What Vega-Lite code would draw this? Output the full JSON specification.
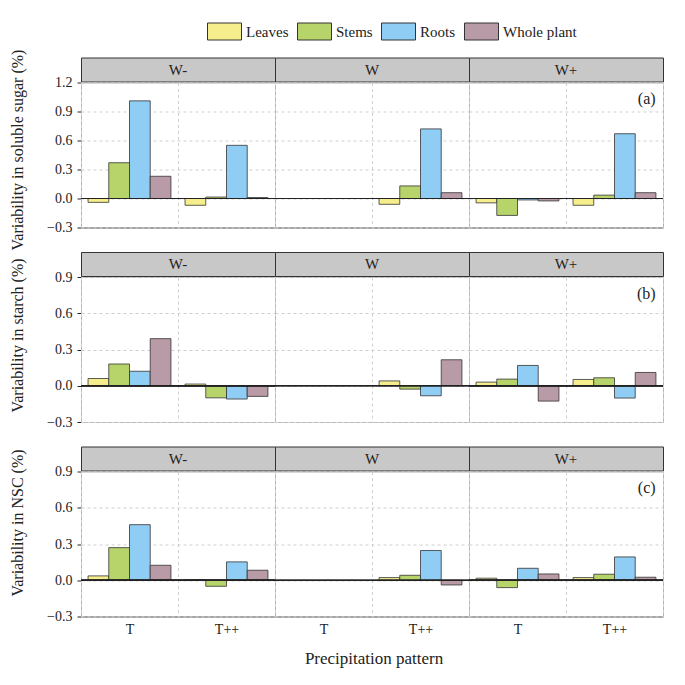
{
  "$schema": "https://vega.github.io/schema/vega-lite/v6.json",
  "padding": {"left": 8, "top": 13.5, "right": 5, "bottom": 5},
  "background": "white",
  "title": {"text": "Precipitation pattern", "orient": "bottom", "anchor": "middle", "fontSize": 17, "font": "Liberation Serif", "fontWeight": "normal", "color": "#222", "offset": 14, "dx": 38},
  "config": {
    "font": "Liberation Serif",
    "view": {"stroke": "#b5b5b5"},
    "axis": {"labelFont": "Liberation Serif", "titleFont": "Liberation Serif", "labelFontSize": 14, "labelColor": "#222", "titleFontWeight": "normal", "titleFontSize": 15, "titleColor": "#222", "domainColor": "#222", "tickColor": "#222"},
    "legend": {"labelFont": "Liberation Serif"}
  },
  "datasets": {
    "t": [
      {"n": "a", "lab": "Variability in soluble sugar (%)"},
      {"n": "b", "lab": "Variability in starch (%)"},
      {"n": "c", "lab": "Variability in NSC (%)"}
    ],
    "d": [
      {"n": "a", "W": "W-", "P": "T", "o": "Leaves", "v": -0.04},
      {"n": "a", "W": "W-", "P": "T", "o": "Stems", "v": 0.37},
      {"n": "a", "W": "W-", "P": "T", "o": "Roots", "v": 1.01},
      {"n": "a", "W": "W-", "P": "T", "o": "Whole plant", "v": 0.23},
      {"n": "a", "W": "W-", "P": "T++", "o": "Leaves", "v": -0.07},
      {"n": "a", "W": "W-", "P": "T++", "o": "Stems", "v": 0.015},
      {"n": "a", "W": "W-", "P": "T++", "o": "Roots", "v": 0.55},
      {"n": "a", "W": "W-", "P": "T++", "o": "Whole plant", "v": 0.01},
      {"n": "a", "W": "W", "P": "T++", "o": "Leaves", "v": -0.06},
      {"n": "a", "W": "W", "P": "T++", "o": "Stems", "v": 0.13},
      {"n": "a", "W": "W", "P": "T++", "o": "Roots", "v": 0.72},
      {"n": "a", "W": "W", "P": "T++", "o": "Whole plant", "v": 0.06},
      {"n": "a", "W": "W+", "P": "T", "o": "Leaves", "v": -0.045},
      {"n": "a", "W": "W+", "P": "T", "o": "Stems", "v": -0.175},
      {"n": "a", "W": "W+", "P": "T", "o": "Roots", "v": -0.015},
      {"n": "a", "W": "W+", "P": "T", "o": "Whole plant", "v": -0.025},
      {"n": "a", "W": "W+", "P": "T++", "o": "Leaves", "v": -0.07},
      {"n": "a", "W": "W+", "P": "T++", "o": "Stems", "v": 0.035},
      {"n": "a", "W": "W+", "P": "T++", "o": "Roots", "v": 0.67},
      {"n": "a", "W": "W+", "P": "T++", "o": "Whole plant", "v": 0.06},
      {"n": "b", "W": "W-", "P": "T", "o": "Leaves", "v": 0.06},
      {"n": "b", "W": "W-", "P": "T", "o": "Stems", "v": 0.18},
      {"n": "b", "W": "W-", "P": "T", "o": "Roots", "v": 0.12},
      {"n": "b", "W": "W-", "P": "T", "o": "Whole plant", "v": 0.39},
      {"n": "b", "W": "W-", "P": "T++", "o": "Leaves", "v": 0.014},
      {"n": "b", "W": "W-", "P": "T++", "o": "Stems", "v": -0.1},
      {"n": "b", "W": "W-", "P": "T++", "o": "Roots", "v": -0.11},
      {"n": "b", "W": "W-", "P": "T++", "o": "Whole plant", "v": -0.088},
      {"n": "b", "W": "W", "P": "T++", "o": "Leaves", "v": 0.04},
      {"n": "b", "W": "W", "P": "T++", "o": "Stems", "v": -0.028},
      {"n": "b", "W": "W", "P": "T++", "o": "Roots", "v": -0.083},
      {"n": "b", "W": "W", "P": "T++", "o": "Whole plant", "v": 0.215},
      {"n": "b", "W": "W+", "P": "T", "o": "Leaves", "v": 0.03},
      {"n": "b", "W": "W+", "P": "T", "o": "Stems", "v": 0.055},
      {"n": "b", "W": "W+", "P": "T", "o": "Roots", "v": 0.168},
      {"n": "b", "W": "W+", "P": "T", "o": "Whole plant", "v": -0.127},
      {"n": "b", "W": "W+", "P": "T++", "o": "Leaves", "v": 0.052},
      {"n": "b", "W": "W+", "P": "T++", "o": "Stems", "v": 0.066},
      {"n": "b", "W": "W+", "P": "T++", "o": "Roots", "v": -0.102},
      {"n": "b", "W": "W+", "P": "T++", "o": "Whole plant", "v": 0.11},
      {"n": "c", "W": "W-", "P": "T", "o": "Leaves", "v": 0.036},
      {"n": "c", "W": "W-", "P": "T", "o": "Stems", "v": 0.27},
      {"n": "c", "W": "W-", "P": "T", "o": "Roots", "v": 0.46},
      {"n": "c", "W": "W-", "P": "T", "o": "Whole plant", "v": 0.124},
      {"n": "c", "W": "W-", "P": "T++", "o": "Leaves", "v": 0.002},
      {"n": "c", "W": "W-", "P": "T++", "o": "Stems", "v": -0.05},
      {"n": "c", "W": "W-", "P": "T++", "o": "Roots", "v": 0.152},
      {"n": "c", "W": "W-", "P": "T++", "o": "Whole plant", "v": 0.083},
      {"n": "c", "W": "W", "P": "T++", "o": "Leaves", "v": 0.022},
      {"n": "c", "W": "W", "P": "T++", "o": "Stems", "v": 0.041},
      {"n": "c", "W": "W", "P": "T++", "o": "Roots", "v": 0.246},
      {"n": "c", "W": "W", "P": "T++", "o": "Whole plant", "v": -0.039},
      {"n": "c", "W": "W+", "P": "T", "o": "Leaves", "v": 0.017},
      {"n": "c", "W": "W+", "P": "T", "o": "Stems", "v": -0.061},
      {"n": "c", "W": "W+", "P": "T", "o": "Roots", "v": 0.099},
      {"n": "c", "W": "W+", "P": "T", "o": "Whole plant", "v": 0.052},
      {"n": "c", "W": "W+", "P": "T++", "o": "Leaves", "v": 0.022},
      {"n": "c", "W": "W+", "P": "T++", "o": "Stems", "v": 0.05},
      {"n": "c", "W": "W+", "P": "T++", "o": "Roots", "v": 0.193},
      {"n": "c", "W": "W+", "P": "T++", "o": "Whole plant", "v": 0.025}
    ]
  },
  "spacing": 18,
  "hconcat": [
    {
      "spacing": 24.5,
      "bounds": "flush",
      "vconcat": [
        {
          "width": 20, "height": 169, "view": {"stroke": null},
          "data": {"name": "t"},
          "transform": [{"filter": "datum.n == 'a'"}],
          "mark": {"type": "text", "angle": 270, "fontSize": 16, "font": "Liberation Serif", "color": "#222", "dx": -8},
          "encoding": {"text": {"field": "lab", "type": "nominal"}}
        },
        {
          "width": 20, "height": 169, "view": {"stroke": null},
          "data": {"name": "t"},
          "transform": [{"filter": "datum.n == 'b'"}],
          "mark": {"type": "text", "angle": 270, "fontSize": 16, "font": "Liberation Serif", "color": "#222", "dx": 0},
          "encoding": {"text": {"field": "lab", "type": "nominal"}}
        },
        {
          "width": 20, "height": 169, "view": {"stroke": null},
          "data": {"name": "t"},
          "transform": [{"filter": "datum.n == 'c'"}],
          "mark": {"type": "text", "angle": 270, "fontSize": 16, "font": "Liberation Serif", "color": "#222", "dx": 6},
          "encoding": {"text": {"field": "lab", "type": "nominal"}}
        }
      ]
    },
    {
      "spacing": 16.5,
      "vconcat": [
        {
          "spacing": -8,
          "vconcat": [
            {
              "data": {"name": "d"},
              "transform": [{"filter": "datum.n == 'a' && datum.o == 'Leaves' && datum.P == 'T++'"}],
              "facet": {"column": {"field": "W", "type": "nominal", "sort": ["W-", "W", "W+"], "header": null}},
              "spacing": {"column": 0},
              "bounds": "flush",
              "spec": {
                "width": 194, "height": 24,
                "view": {"fill": "#c8c8c8", "stroke": "#333"},
                "mark": {"type": "text", "fontSize": 15, "font": "Liberation Serif", "color": "#222"},
                "encoding": {"text": {"field": "W", "type": "nominal"}}
              }
            },
            {
              "data": {"name": "d"},
              "transform": [{"filter": "datum.n == 'a'"}],
              "facet": {"column": {"field": "W", "type": "nominal", "sort": ["W-", "W", "W+"], "header": null}},
              "spacing": {"column": 0},
              "bounds": "flush",
              "spec": {
                "width": 194, "height": 145,
                "layer": [
                  {
                    "mark": {"type": "bar", "stroke": "#333", "strokeWidth": 0.8},
                    "encoding": {
                      "x": {"field": "P", "type": "nominal", "scale": {"domain": ["T", "T++"], "paddingInner": 0, "paddingOuter": 0},
                            "axis": {"labels": false, "ticks": false, "title": null, "domain": true, "grid": true, "gridDash": [3, 3], "gridColor": "#cfcfcf", "tickBand": "extent"}},
                      "xOffset": {"field": "o", "type": "nominal", "scale": {"domain": ["Leaves", "Stems", "Roots", "Whole plant"], "paddingInner": 0, "paddingOuter": 0.34}},
                      "y": {"field": "v", "type": "quantitative", "scale": {"domain": [-0.3, 1.2], "nice": false, "zero": false},
                            "axis": {"values": [-0.3, 0, 0.3, 0.6, 0.9, 1.2], "format": ".1f", "tickSize": 4, "labelPadding": 5, "grid": true, "gridDash": [3, 3], "gridColor": "#cfcfcf", "title": null}},
                      "color": {"field": "o", "type": "nominal",
                                "scale": {"domain": ["Leaves", "Stems", "Roots", "Whole plant"], "range": ["#f6ee8c", "#b7d46a", "#90cdf5", "#b99aa7"]},
                                "legend": {"title": null, "orient": "none", "direction": "horizontal", "legendX": 199, "legendY": -43.5, "symbolType": "M-1,-0.5H1V0.5H-1Z", "symbolSize": 1156, "symbolStrokeColor": "#333", "symbolStrokeWidth": 1, "symbolOpacity": 1, "labelFontSize": 15, "labelColor": "#222", "columnPadding": 6, "labelOffset": 4}}
                    }
                  },
                  {
                    "mark": {"type": "rule", "color": "#222", "strokeWidth": 1.2},
                    "encoding": {"y": {"datum": 0, "type": "quantitative", "axis": {"orient": "right", "labels": false, "ticks": false, "grid": false, "title": null, "domain": true}}}
                  },
                  {
                    "transform": [{"filter": "datum.W == 'W+' && datum.o == 'Leaves' && datum.P == 'T++'"}],
                    "mark": {"type": "text", "text": "(a)", "align": "right", "baseline": "middle", "fontSize": 16, "dx": 10, "color": "#222"},
                    "encoding": {"x": {"datum": "T++", "type": "nominal"}, "xOffset": {"datum": "Whole plant", "type": "nominal"}, "y": {"datum": 1.03, "type": "quantitative", "axis": null}}
                  }
                ],
                "resolve": {"axis": {"y": "independent"}}
              }
            }
          ]
        },
        {
          "spacing": -8,
          "vconcat": [
            {
              "data": {"name": "d"},
              "transform": [{"filter": "datum.n == 'b' && datum.o == 'Leaves' && datum.P == 'T++'"}],
              "facet": {"column": {"field": "W", "type": "nominal", "sort": ["W-", "W", "W+"], "header": null}},
              "spacing": {"column": 0},
              "bounds": "flush",
              "spec": {
                "width": 194, "height": 24,
                "view": {"fill": "#c8c8c8", "stroke": "#333"},
                "mark": {"type": "text", "fontSize": 15, "font": "Liberation Serif", "color": "#222"},
                "encoding": {"text": {"field": "W", "type": "nominal"}}
              }
            },
            {
              "data": {"name": "d"},
              "transform": [{"filter": "datum.n == 'b'"}],
              "facet": {"column": {"field": "W", "type": "nominal", "sort": ["W-", "W", "W+"], "header": null}},
              "spacing": {"column": 0},
              "bounds": "flush",
              "spec": {
                "width": 194, "height": 145,
                "layer": [
                  {
                    "mark": {"type": "bar", "stroke": "#333", "strokeWidth": 0.8},
                    "encoding": {
                      "x": {"field": "P", "type": "nominal", "scale": {"domain": ["T", "T++"], "paddingInner": 0, "paddingOuter": 0},
                            "axis": {"labels": false, "ticks": false, "title": null, "domain": true, "grid": true, "gridDash": [3, 3], "gridColor": "#cfcfcf", "tickBand": "extent"}},
                      "xOffset": {"field": "o", "type": "nominal", "scale": {"domain": ["Leaves", "Stems", "Roots", "Whole plant"], "paddingInner": 0, "paddingOuter": 0.34}},
                      "y": {"field": "v", "type": "quantitative", "scale": {"domain": [-0.3, 0.9], "nice": false, "zero": false},
                            "axis": {"values": [-0.3, 0, 0.3, 0.6, 0.9], "format": ".1f", "tickSize": 4, "labelPadding": 5, "grid": true, "gridDash": [3, 3], "gridColor": "#cfcfcf", "title": null}},
                      "color": {"field": "o", "type": "nominal",
                                "scale": {"domain": ["Leaves", "Stems", "Roots", "Whole plant"], "range": ["#f6ee8c", "#b7d46a", "#90cdf5", "#b99aa7"]}}
                    }
                  },
                  {
                    "mark": {"type": "rule", "color": "#222", "strokeWidth": 1.2},
                    "encoding": {"y": {"datum": 0, "type": "quantitative", "axis": {"orient": "right", "labels": false, "ticks": false, "grid": false, "title": null, "domain": true}}}
                  },
                  {
                    "transform": [{"filter": "datum.W == 'W+' && datum.o == 'Leaves' && datum.P == 'T++'"}],
                    "mark": {"type": "text", "text": "(b)", "align": "right", "baseline": "middle", "fontSize": 16, "dx": 10, "color": "#222"},
                    "encoding": {"x": {"datum": "T++", "type": "nominal"}, "xOffset": {"datum": "Whole plant", "type": "nominal"}, "y": {"datum": 0.76, "type": "quantitative", "axis": null}}
                  }
                ],
                "resolve": {"axis": {"y": "independent"}}
              }
            }
          ]
        },
        {
          "spacing": -8,
          "vconcat": [
            {
              "data": {"name": "d"},
              "transform": [{"filter": "datum.n == 'c' && datum.o == 'Leaves' && datum.P == 'T++'"}],
              "facet": {"column": {"field": "W", "type": "nominal", "sort": ["W-", "W", "W+"], "header": null}},
              "spacing": {"column": 0},
              "bounds": "flush",
              "spec": {
                "width": 194, "height": 24,
                "view": {"fill": "#c8c8c8", "stroke": "#333"},
                "mark": {"type": "text", "fontSize": 15, "font": "Liberation Serif", "color": "#222"},
                "encoding": {"text": {"field": "W", "type": "nominal"}}
              }
            },
            {
              "data": {"name": "d"},
              "transform": [{"filter": "datum.n == 'c'"}],
              "facet": {"column": {"field": "W", "type": "nominal", "sort": ["W-", "W", "W+"], "header": null}},
              "spacing": {"column": 0},
              "bounds": "flush",
              "spec": {
                "width": 194, "height": 145,
                "layer": [
                  {
                    "mark": {"type": "bar", "stroke": "#333", "strokeWidth": 0.8},
                    "encoding": {
                      "x": {"field": "P", "type": "nominal", "scale": {"domain": ["T", "T++"], "paddingInner": 0, "paddingOuter": 0},
                            "axis": {"labels": true, "labelAngle": 0, "labelPadding": 6, "ticks": false, "title": null, "domain": true, "grid": true, "gridDash": [3, 3], "gridColor": "#cfcfcf", "tickBand": "extent"}},
                      "xOffset": {"field": "o", "type": "nominal", "scale": {"domain": ["Leaves", "Stems", "Roots", "Whole plant"], "paddingInner": 0, "paddingOuter": 0.34}},
                      "y": {"field": "v", "type": "quantitative", "scale": {"domain": [-0.3, 0.9], "nice": false, "zero": false},
                            "axis": {"values": [-0.3, 0, 0.3, 0.6, 0.9], "format": ".1f", "tickSize": 4, "labelPadding": 5, "grid": true, "gridDash": [3, 3], "gridColor": "#cfcfcf", "title": null}},
                      "color": {"field": "o", "type": "nominal",
                                "scale": {"domain": ["Leaves", "Stems", "Roots", "Whole plant"], "range": ["#f6ee8c", "#b7d46a", "#90cdf5", "#b99aa7"]}}
                    }
                  },
                  {
                    "mark": {"type": "rule", "color": "#222", "strokeWidth": 1.2},
                    "encoding": {"y": {"datum": 0, "type": "quantitative", "axis": {"orient": "right", "labels": false, "ticks": false, "grid": false, "title": null, "domain": true}}}
                  },
                  {
                    "transform": [{"filter": "datum.W == 'W+' && datum.o == 'Leaves' && datum.P == 'T++'"}],
                    "mark": {"type": "text", "text": "(c)", "align": "right", "baseline": "middle", "fontSize": 16, "dx": 10, "color": "#222"},
                    "encoding": {"x": {"datum": "T++", "type": "nominal"}, "xOffset": {"datum": "Whole plant", "type": "nominal"}, "y": {"datum": 0.76, "type": "quantitative", "axis": null}}
                  }
                ],
                "resolve": {"axis": {"y": "independent"}}
              }
            }
          ]
        }
      ]
    }
  ]
}
